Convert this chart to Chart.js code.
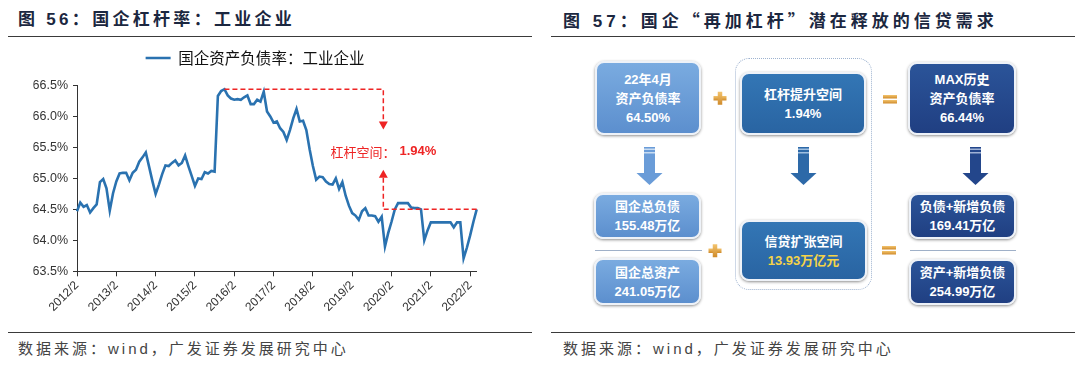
<!DOCTYPE html>
<html><head><meta charset="utf-8">
<script src="https://cdn.jsdelivr.net/npm/chart.js@4.4.1/dist/chart.umd.min.js"></script>
<style>
html,body{margin:0;padding:0;background:#fff;}
#page{position:relative;width:1080px;height:376px;overflow:hidden;background:#fff;font-family:"Liberation Sans","Noto Sans CJK SC",sans-serif;}
.title{position:absolute;top:8px;font-size:17px;font-weight:bold;color:#1b2740;letter-spacing:3.3px;white-space:nowrap;line-height:24px;}
.q{font-family:"Noto Sans CJK SC";}
.rule{position:absolute;height:0;border-top:1.5px solid #3a3a3a;}
.source{position:absolute;top:339px;font-size:15px;color:#444;letter-spacing:3px;white-space:nowrap;line-height:20px;}
#chartWrap{position:absolute;left:0;top:40px;width:510px;height:292px;}
.box{position:absolute;box-sizing:border-box;border-radius:9px;border:2px solid #eef2f8;box-shadow:0 1px 3px rgba(0,0,0,.45);color:#fff;font-weight:bold;font-size:13px;line-height:19px;text-align:center;display:flex;flex-direction:column;justify-content:center;white-space:nowrap;}
.light{background:linear-gradient(180deg,#7aabe0 0%,#5c8fce 100%);}
.mid{background:linear-gradient(180deg,#3376b5 0%,#2964a2 100%);}
.navy{background:linear-gradient(180deg,#2b5499 0%,#203f82 100%);}
.gold{color:#f5d447;}
.frame{position:absolute;box-sizing:border-box;border:1.5px dotted #9db2cf;border-radius:14px;}
.sep{position:absolute;height:0;border-top:1px solid #9fb0c8;}
.sym{position:absolute;}
</style></head>
<body><div id="page">
<div class="title" style="left:18px">图 56：国企杠杆率：工业企业</div>
<div class="rule" style="left:8px;width:524px;top:36px"></div>
<div id="chartWrap"><canvas id="c" width="510" height="292"></canvas></div>
<div class="rule" style="left:8px;width:524px;top:332px"></div>
<div class="source" style="left:18px">数据来源：wind，广发证券发展研究中心</div>

<div class="title" style="left:563px;letter-spacing:4px">图 57：国企<span class="q">“</span>再加杠杆<span class="q">”</span>潜在释放的信贷需求</div>
<div class="rule" style="left:551px;width:524px;top:36px"></div>
<div class="rule" style="left:551px;width:524px;top:332px"></div>
<div class="source" style="left:563px">数据来源：wind，广发证券发展研究中心</div>

<div class="frame" style="left:735px;top:58px;width:137px;height:232px"></div>

<div class="box light" style="left:595px;top:61px;width:106px;height:74px"><div>22年4月</div><div>资产负债率</div><div>64.50%</div></div>
<div class="box mid" style="left:740px;top:72px;width:126px;height:63px"><div>杠杆提升空间</div><div>1.94%</div></div>
<div class="box navy" style="left:908px;top:62px;width:108px;height:73px"><div>MAX历史</div><div>资产负债率</div><div>66.44%</div></div>

<div class="box light" style="left:594px;top:193px;width:107px;height:46px"><div>国企总负债</div><div>155.48万亿</div></div>
<div class="sep" style="left:595px;width:107px;top:250px"></div>
<div class="box light" style="left:594px;top:258px;width:107px;height:47px"><div>国企总资产</div><div>241.05万亿</div></div>

<div class="box mid" style="left:740px;top:220px;width:127px;height:61px"><div>信贷扩张空间</div><div class="gold">13.93万亿元</div></div>

<div class="box navy" style="left:909px;top:193px;width:107px;height:46px"><div>负债+新增负债</div><div>169.41万亿</div></div>
<div class="sep" style="left:910px;width:106px;top:250px"></div>
<div class="box navy" style="left:909px;top:259px;width:107px;height:46px"><div>资产+新增负债</div><div>254.99万亿</div></div>

<svg class="sym" style="left:0;top:0" width="1080" height="376">
<defs>
<linearGradient id="gg" x1="0" y1="0" x2="0" y2="1"><stop offset="0" stop-color="#f3c46e"/><stop offset="1" stop-color="#cf8a2a"/></linearGradient>
</defs>
<g fill="url(#gg)">
<rect x="713.5" y="96" width="13" height="4.5"/><rect x="717.75" y="91.75" width="4.5" height="13"/>
<rect x="708.5" y="248.5" width="13" height="4.5"/><rect x="712.75" y="244.25" width="4.5" height="13"/>
<rect x="883" y="95" width="14" height="3.5"/><rect x="883" y="100" width="14" height="3.5"/>
<rect x="882" y="246" width="14" height="3.5"/><rect x="882" y="251" width="14" height="3.5"/>
</g>
<g>
<rect x="644" y="147" width="11" height="26" fill="#6a9cd8"/>
<rect x="644" y="148.5" width="11" height="1.5" fill="#c8dcf2"/><rect x="644" y="152" width="11" height="1.5" fill="#c8dcf2"/>
<polygon points="636.5,173 662.5,173 649.5,185" fill="#6a9cd8"/>
<rect x="798" y="147" width="11" height="26" fill="#2d69a8"/>
<rect x="798" y="148.5" width="11" height="1.5" fill="#9fbfe0"/><rect x="798" y="152" width="11" height="1.5" fill="#9fbfe0"/>
<polygon points="790.5,173 816.5,173 803.5,185" fill="#2d69a8"/>
<rect x="970" y="147" width="11" height="26" fill="#23468b"/>
<rect x="970" y="148.5" width="11" height="1.5" fill="#9fb2d6"/><rect x="970" y="152" width="11" height="1.5" fill="#9fb2d6"/>
<polygon points="962.5,173 988.5,173 975.5,185" fill="#23468b"/>
</g>
</svg>
</div>

<script>
// ---------- data ----------
const startYear = 2012, startMonth = 2;          // first category 2012/2
const seriesName = '国企资产负债率：工业企业';
const tickLabels = ['2012/2','2013/2','2014/2','2015/2','2016/2','2017/2','2018/2','2019/2','2020/2','2021/2','2022/2'];
const debtRatio = [
  64.47,64.61,64.54,64.57,64.45,64.52,64.58,64.94,64.99,64.84,64.48,64.76,
  64.95,65.08,65.09,65.09,64.97,65.09,65.14,65.27,65.34,65.42,65.19,64.96,
  64.75,64.90,65.07,65.21,65.20,65.25,65.29,65.21,65.25,65.37,65.20,65.04,
  64.88,65.00,64.99,65.10,65.08,65.12,65.11,66.33,66.41,66.44,66.34,66.29,
  66.27,66.28,66.27,66.31,66.34,66.20,66.20,66.27,66.24,66.40,66.08,66.00,
  65.90,65.92,65.81,65.75,65.62,65.78,65.97,66.12,65.92,65.93,65.78,65.47,
  65.20,64.98,65.03,65.02,64.95,64.91,64.90,65.00,64.83,64.94,64.72,64.56,
  64.44,64.40,64.33,64.47,64.52,64.40,64.40,64.39,64.30,64.38,63.90,64.12,
  64.30,64.50,64.60,64.60,64.60,64.60,64.53,64.52,64.52,64.50,64.00,64.16,
  64.29,64.29,64.29,64.29,64.29,64.29,64.29,64.21,64.29,64.29,63.71,63.88,
  64.08,64.30,64.50
];
const categories = debtRatio.map((_, i) => {
  const m = startMonth - 1 + i;
  return (startYear + Math.floor(m / 12)) + '/' + (m % 12 + 1);
});
const gapLabel = '杠杆空间：';

// ---------- annotation plugin ----------
const gapAnnotation = {
  id: 'gapAnnotation',
  afterDatasetsDraw(chart) {
    const {ctx, scales: {x, y}} = chart;
    const peak = Math.max(...debtRatio);
    const peakIdx = debtRatio.indexOf(peak);
    const last = debtRatio.length - 1;
    const now = debtRatio[last];
    const gapIdx = 93.5;
    const red = '#ee2424';
    const xP = x.getPixelForValue(peakIdx), xG = x.getPixelForValue(gapIdx), xE = x.getPixelForValue(last);
    const yP = y.getPixelForValue(peak), yN = y.getPixelForValue(now);
    const yDownTip = y.getPixelForValue(65.79), yUpTip = y.getPixelForValue(65.14), yTxt = y.getPixelForValue(65.43);
    ctx.save();
    ctx.strokeStyle = red; ctx.fillStyle = red; ctx.lineWidth = 1.5; ctx.setLineDash([5, 3]);
    ctx.beginPath();
    ctx.moveTo(xP, yP); ctx.lineTo(xG, yP); ctx.lineTo(xG, yDownTip - 8);
    ctx.moveTo(xG, yUpTip + 8); ctx.lineTo(xG, yN); ctx.lineTo(xE, yN);
    ctx.stroke();
    ctx.setLineDash([]);
    ctx.beginPath(); ctx.moveTo(xG - 4.5, yDownTip - 8); ctx.lineTo(xG + 4.5, yDownTip - 8); ctx.lineTo(xG, yDownTip); ctx.closePath(); ctx.fill();
    ctx.beginPath(); ctx.moveTo(xG - 4.5, yUpTip + 8); ctx.lineTo(xG + 4.5, yUpTip + 8); ctx.lineTo(xG, yUpTip); ctx.closePath(); ctx.fill();
    const f1 = '13px "Noto Sans CJK SC"', f2 = 'bold 13px "Liberation Sans"';
    const t2 = (peak - now).toFixed(2) + '%';
    ctx.font = f1; const w1 = ctx.measureText(gapLabel).width + 4;
    ctx.font = f2; const w2 = ctx.measureText(t2).width;
    const x0 = xG - (w1 + w2) / 2;
    ctx.textBaseline = 'middle'; ctx.textAlign = 'left';
    ctx.font = f1; ctx.fillText(gapLabel, x0, yTxt);
    ctx.font = f2; ctx.fillText(t2, x0 + w1, yTxt);
    ctx.restore();
  }
};

new Chart(document.getElementById('c'), {
  type: 'line',
  data: {
    labels: categories,
    datasets: [{
      label: seriesName,
      data: debtRatio,
      borderColor: '#2a72b0',
      backgroundColor: '#2a72b0',
      borderWidth: 2.6,
      pointRadius: 0,
      tension: 0,
      fill: false
    }]
  },
  options: {
    responsive: false,
    animation: false,
    devicePixelRatio: 1,
    layout: {padding: {left: 33.3, right: 33.3, top: 0, bottom: 0}},
    plugins: {
      legend: {
        display: true, position: 'top', align: 'center',
        labels: {
          usePointStyle: true, pointStyle: 'line', pointStyleWidth: 25,
          padding: 10.3, color: '#111',
          font: {family: '"Noto Sans CJK SC"', size: 15.5}
        }
      },
      subtitle: {display: true, text: '', weight: 500, position: 'top', font: {size: 1, lineHeight: 1}, padding: {top: 0, bottom: 8.7}},
      tooltip: {enabled: false}
    },
    scales: {
      x: {
        type: 'category',
        offset: false,
        afterFit(s) { s.height = 60.7; },
        border: {display: true, color: '#333', width: 1},
        grid: {display: true, drawOnChartArea: false, drawTicks: true, tickLength: 5, color: '#333'},
        ticks: {
          autoSkip: false, maxRotation: 45, minRotation: 45, padding: 2,
          color: '#333', font: {family: '"Liberation Sans"', size: 12},
          callback: (v, i) => (i % 12 === 0 ? tickLabels[i / 12] : null)
        }
      },
      y: {
        min: 63.5, max: 66.5,
        afterFit(s) { s.width = 43.7; },
        border: {display: true, color: '#333', width: 1},
        grid: {display: true, drawOnChartArea: false, drawTicks: true, tickLength: 4, color: '#333'},
        ticks: {
          stepSize: 0.5, padding: 5, color: '#333',
          font: {family: '"Liberation Sans"', size: 12.5},
          callback: v => v.toFixed(1) + '%'
        }
      }
    }
  },
  plugins: [gapAnnotation]
});
</script>
</body></html>
